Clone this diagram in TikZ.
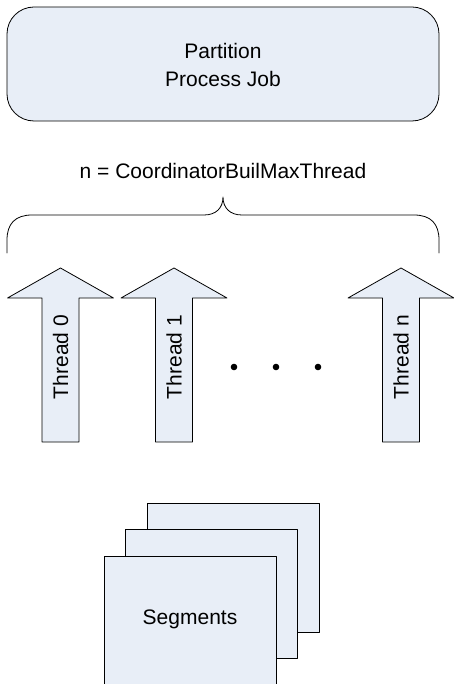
\documentclass[tikz,border=0pt]{standalone}
\usepackage{fontspec}
\setmainfont{Liberation Sans}
\definecolor{paleblue}{RGB}{232,238,247}
\begin{document}
\begin{tikzpicture}[x=1pt, y=-1pt, line join=round, line cap=round]
	\tikzset{every node/.style={font=\fontsize{21}{28}\selectfont, inner sep=0pt}}
	\tikzset{panel/.style={draw, fill=paleblue, line width=0.8pt}}
	\useasboundingbox (0,0) rectangle (453,684);
	% job box
	\draw[panel, rounded corners=27pt] (7,7) rectangle (439,121);
	\node[align=center] (job) at (223,64.5) {Partition\\Process Job};
	% brace
	\node (maxthread) at (223,170.5) {n = CoordinatorBuilMaxThread};
	\draw[line width=0.8pt] (7,253) -- (7,240) .. controls (7,224) and (15,215) .. (32,215) -- (204,215) .. controls (216,215) and (223,208) .. (223,197) .. controls (223,208) and (230,215) .. (242,215) -- (414,215) .. controls (431,215) and (439,224) .. (439,240) -- (439,253);
	% threads
	\foreach \x/\lbl in {60.5/0, 174/1, 401/n}
	{
		\draw[panel] (\x-18.5,442) -- (\x-18.5,298) -- (\x-53,298) -- (\x,268) -- (\x+53,298) -- (\x+18.5,298) -- (\x+18.5,442) -- cycle;
		\node[rotate=90] (thread\lbl) at (\x,357) {Thread \lbl};
	}
	\foreach \x in {234,276,318}
	\fill (\x,367) circle (3.3pt);
	% segments
	\foreach \dx/\dy in {43/-53, 21.5/-26.5, 0/0}
	\draw[panel] (104+\dx,556+\dy) rectangle (276+\dx,685+\dy);
	\node (segments) at (190,619.5) {Segments};
\end{tikzpicture}
\end{document}
